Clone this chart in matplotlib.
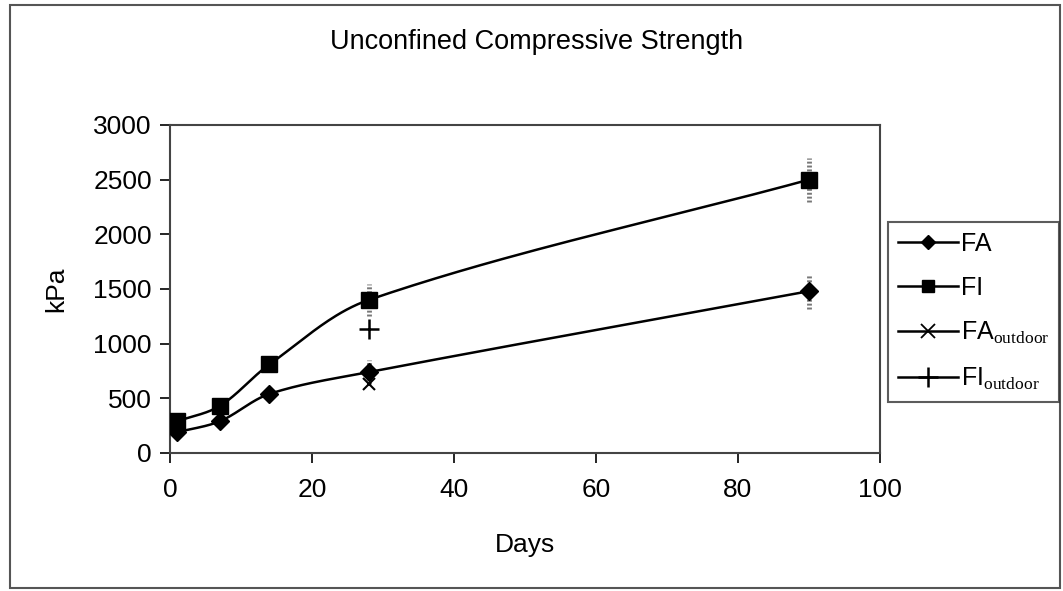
import numpy as np
import matplotlib.pyplot as plt
from matplotlib.patches import Rectangle

plt.rcParams['font.family'] = ['Liberation Sans', 'DejaVu Sans']
plt.rcParams['mathtext.fontset'] = 'custom'
plt.rcParams['mathtext.rm'] = 'Liberation Serif'

days = [1, 7, 14, 28, 90]
fa = [190, 290, 540, 740, 1480]
fi = [290, 430, 810, 1400, 2500]

# error bars only at 28 and 90 days
err_days = [28, 90]
fa_err_val = [740, 1480]
fa_err = [110, 160]
fi_err_val = [1400, 2500]
fi_err = [150, 200]

out_day = [28]
fa_outdoor = [630]
fi_outdoor = [1130]

XMAX, YMAX = 100, 3000
AX_W, AX_H = 710, 328  # axes size in pixels


def smooth(x, y, n=40):
    # cubic Bezier through the points (screen units), tangent from the
    # neighbours, handle length a third of each chord
    p = np.column_stack([np.asarray(x, float) / XMAX * AX_W,
                         np.asarray(y, float) / YMAX * AX_H])
    m = len(p)
    tang = np.zeros_like(p)
    for i in range(m):
        d = p[min(i + 1, m - 1)] - p[max(i - 1, 0)]
        tang[i] = d / np.hypot(*d)
    t = np.linspace(0, 1, n)[:, None]
    pts = []
    for i in range(m - 1):
        L = np.hypot(*(p[i + 1] - p[i]))
        c0, c3 = p[i], p[i + 1]
        c1 = c0 + tang[i] * L / 3
        c2 = c3 - tang[i + 1] * L / 3
        pts.append((1 - t) ** 3 * c0 + 3 * (1 - t) ** 2 * t * c1
                   + 3 * (1 - t) * t ** 2 * c2 + t ** 3 * c3)
    pts = np.vstack(pts)
    return pts[:, 0] / AX_W * XMAX, pts[:, 1] / AX_H * YMAX


fig = plt.figure(figsize=(10.63, 5.91), dpi=100)
fig.patches.append(Rectangle((10 / 1063, 3 / 591), 1050 / 1063, 583 / 591,
                             transform=fig.transFigure, fill=False,
                             edgecolor='#555555', linewidth=1.5))
ax = fig.add_axes([170 / 1063, 138 / 591, AX_W / 1063, AX_H / 591])

for xv, yv, ev in ((err_days, fa_err_val, fa_err), (err_days, fi_err_val, fi_err)):
    eb = ax.errorbar(xv, yv, yerr=ev, fmt='none', ecolor='#777777',
                     elinewidth=3.5, capsize=0, zorder=2)
    eb[2][0].set_linestyle((0, (0.4, 0.4)))

sx, sy = smooth(days, fa)
ax.plot(sx, sy, color='black', lw=1.8, zorder=3)
ax.plot(days, fa, 'D', color='black', ms=9, zorder=4)
sx, sy = smooth(days, fi)
ax.plot(sx, sy, color='black', lw=1.8, zorder=3)
ax.plot(days, fi, 's', color='black', ms=11, zorder=4)
ax.plot(out_day, fa_outdoor, 'x', color='black', ms=9, mew=1.5, zorder=4)
ax.plot(out_day, fi_outdoor, '+', color='black', ms=14, mew=1.8, zorder=4)

# legend handles: line with marker through it
h_fa, = ax.plot([], [], '-D', color='black', ms=7, lw=1.8)
h_fi, = ax.plot([], [], '-s', color='black', ms=8, lw=1.8)
h_fao, = ax.plot([], [], '-x', color='black', ms=10, mew=1.3, lw=1.8)
h_fio, = ax.plot([], [], '-+', color='black', ms=14, mew=1.8, lw=1.8)
leg = fig.legend([h_fa, h_fi, h_fao, h_fio],
                 ['FA', 'FI', r'FA$_{\rm outdoor}$', r'FI$_{\rm outdoor}$'],
                 loc='upper left', bbox_to_anchor=(888 / 1063, 1 - 222 / 591),
                 fontsize=18, frameon=True, fancybox=False, handlelength=2.4,
                 handletextpad=0.1, borderpad=0.4, labelspacing=0.8,
                 borderaxespad=0)
leg.get_frame().set_edgecolor('#333333')
leg.get_frame().set_linewidth(1.5)

ax.set_xlim(0, XMAX)
ax.set_ylim(0, YMAX)
ax.set_xticks(range(0, 101, 20))
ax.set_yticks(range(0, 3001, 500))
ax.tick_params(labelsize=19, length=7, width=1.2, direction='out')
ax.tick_params(axis='x', pad=11)
ax.tick_params(axis='y', pad=6)
for s in ax.spines.values():
    s.set_color('#444444')
    s.set_linewidth(1.5)

ax.set_xlabel('Days', fontsize=19, labelpad=22)
ax.set_ylabel('kPa', fontsize=19, labelpad=18)
fig.text(537 / 1063, 1 - 42 / 591, 'Unconfined Compressive Strength',
         fontsize=19.5, ha='center', va='center')

fig.savefig('out.png', dpi=100)
